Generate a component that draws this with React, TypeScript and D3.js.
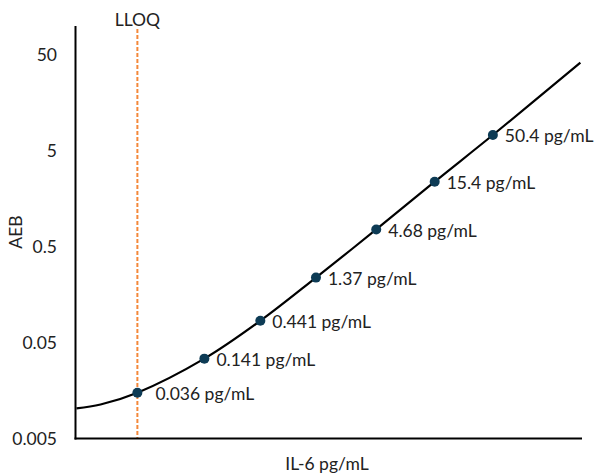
import React from "react";
import * as d3 from "d3";

// Calibrator concentrations (pg/mL) and their AEB signal
const concentrations = [0.036, 0.141, 0.441, 1.37, 4.68, 15.4, 50.4];
const aebValues = [0.015, 0.034, 0.0844, 0.238, 0.756, 2.38, 7.3];
const pointLabels = ["0.036 pg/mL", "0.141 pg/mL", "0.441 pg/mL", "1.37 pg/mL", "4.68 pg/mL", "15.4 pg/mL", "50.4 pg/mL"];

// Fitted curve
const curveConc = [0.0104, 0.017, 0.036, 0.141, 0.441, 1.37, 4.68, 15.4, 50.4, 300];
const curveAeb = [0.0103, 0.0113, 0.015, 0.034, 0.0844, 0.238, 0.756, 2.38, 7.3, 41.5];

const yTicks = [0.005, 0.05, 0.5, 5, 50];
const yTickLabels = ["0.005", "0.05", "0.5", "5", "50"];

const lloq = 0.036;

const W = 596;
const H = 476;
const FONT = "Lato, 'Open Sans', sans-serif";
const FS = 17.5;

export default function App() {
  const x = d3.scaleLog().domain([0.0102, 310]).range([75.5, 582]);
  const y = d3.scaleLog().domain([0.005, 100]).range([438.5, 26]);

  const curveData = curveConc.map((c, i) => [c, curveAeb[i]] as [number, number]);
  const line = d3
    .line<[number, number]>()
    .x((d) => x(d[0]))
    .y((d) => y(d[1]))
    .curve(d3.curveCatmullRom.alpha(0.5));

  return (
    <svg width={W} height={H} style={{ position: "absolute", left: 0, top: 0 }}>
      <rect width={W} height={H} fill="#ffffff" />
      {/* LLOQ line */}
      <line
        x1={x(lloq)}
        x2={x(lloq)}
        y1={29}
        y2={y.range()[0]}
        stroke="#F4883A"
        strokeWidth={2}
        strokeDasharray="4,2"
      />
      <text x={x(lloq)} y={20} dy="0.35em" textAnchor="middle" fontFamily={FONT} fontSize={FS} fill="#222">
        LLOQ
      </text>
      {/* axes */}
      <line x1={x.range()[0]} x2={x.range()[0]} y1={y.range()[1]} y2={y.range()[0] + 1} stroke="#000" strokeWidth={2} />
      <line x1={x.range()[0] - 1} x2={x.range()[1]} y1={y.range()[0]} y2={y.range()[0]} stroke="#000" strokeWidth={2} />
      {yTicks.map((t, i) => (
        <text key={t} x={57} y={y(t)} dy="0.35em" textAnchor="end" fontFamily={FONT} fontSize={FS} fill="#222">
          {yTickLabels[i]}
        </text>
      ))}
      <text
        transform={`translate(15.5,232) rotate(-90)`}
        textAnchor="middle"
        dy="0.35em"
        fontFamily={FONT}
        fontSize={FS}
        fill="#222"
      >
        AEB
      </text>
      <text x={327} y={464} dy="0.35em" textAnchor="middle" fontFamily={FONT} fontSize={FS} fill="#222">
        IL-6 pg/mL
      </text>
      {/* curve */}
      <path d={line(curveData) || ""} fill="none" stroke="#000" strokeWidth={2.2} />
      {/* points */}
      {concentrations.map((c, i) => (
        <g key={c}>
          <circle cx={x(c)} cy={y(aebValues[i])} r={5} fill="#0D3B55" />
          <text
            x={x(c) + (c === lloq ? 18 : 12)}
            y={y(aebValues[i]) + 1}
            dy="0.35em"
            fontFamily={FONT}
            fontSize={FS}
            fill="#222"
          >
            {pointLabels[i]}
          </text>
        </g>
      ))}
    </svg>
  );
}
